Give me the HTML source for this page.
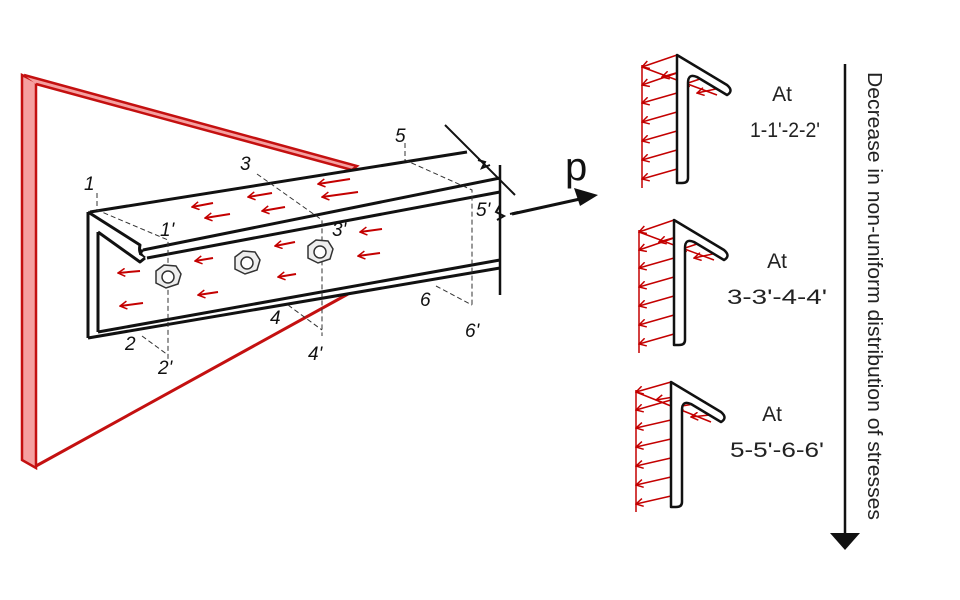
<!DOCTYPE html>
<html><head><meta charset="utf-8"><style>
html,body{margin:0;padding:0;background:#fff;}
svg{display:block;}
.hand{font-family:"Liberation Sans",sans-serif;}
</style></head><body>
<svg width="960" height="600" viewBox="0 0 960 600" xmlns="http://www.w3.org/2000/svg">
<defs>
<marker id="ra" markerWidth="9" markerHeight="9" refX="8" refY="4.5" orient="auto" markerUnits="userSpaceOnUse">
<path d="M1,0.5 L8,4.5 L1,8.5" fill="none" stroke="#c40000" stroke-width="1.5"/>
</marker>
</defs>
<rect width="960" height="600" fill="#fff"/>

<!-- red bracket / wall -->
<path d="M22,75 L36,82 L36,468 L22,460 Z" fill="#f5a0a0" stroke="#c41010" stroke-width="2.5"/>
<path d="M24,75 L357,166 L352,170 L36,84" fill="#f5a0a0" stroke="#c41010" stroke-width="2.5"/>
<line x1="36" y1="466" x2="348" y2="294" stroke="#c41010" stroke-width="3"/>

<!-- beam -->
<g fill="#fff" stroke="#111" stroke-width="3" stroke-linejoin="round">
<path d="M88,212 L467,152 L500,165 L500,295 L500,268 L88,338 Z" stroke="none"/>
<line x1="90" y1="212" x2="467" y2="152"/>
<line x1="143" y1="250" x2="500" y2="178"/>
<line x1="147" y1="258" x2="500" y2="192"/>
<path d="M143,250 Q138,254 143,258"/>
<path d="M88,212 L140,245 Q138,254 145,258"/>
<path d="M98,232 L140,262 L145,258"/>
<path d="M88,212 L88,338"/>
<path d="M98,232 L98,332"/>
<line x1="88" y1="338" x2="500" y2="268"/>
<line x1="98" y1="332" x2="500" y2="260"/>
<line x1="500" y1="165" x2="500" y2="295" stroke-width="2.5"/>
</g>
<!-- break line -->
<g stroke="#111" stroke-width="2" fill="none">
<line x1="445" y1="125" x2="515" y2="195"/>
<path d="M478,160 L485,162 L482,168 L490,165"/>
<path d="M500,205 L496,212 L504,216 L497,220"/>
<line x1="510" y1="214" x2="518" y2="212"/>
</g>

<!-- dashed section lines -->
<g stroke="#333" stroke-width="1" stroke-dasharray="5,3" fill="none">
<path d="M97,193 L97,210 L168,240 L168,360"/>
<path d="M142,336 L168,355"/>
<path d="M257,174 L322,220 L322,336"/>
<path d="M288,305 L322,330"/>
<path d="M405,143 L405,160 L472,190 L472,306"/>
<path d="M436,286 L472,305"/>
</g>

<!-- bolts -->
<g fill="#fff" stroke="#333" stroke-width="1.5">
<g transform="translate(168,277)"><path d="M-12,-6 L-4,-12 L8,-11 L13,-3 L10,7 L-2,11 L-12,6 Z" fill="#eee"/><circle r="6"/></g>
<g transform="translate(247,263)"><path d="M-12,-6 L-4,-12 L8,-11 L13,-3 L10,7 L-2,11 L-12,6 Z" fill="#eee"/><circle r="6"/></g>
<g transform="translate(320,252)"><path d="M-12,-6 L-4,-12 L8,-11 L13,-3 L10,7 L-2,11 L-12,6 Z" fill="#eee"/><circle r="6"/></g>
</g>

<!-- red arrows on beam -->
<g stroke="#c40000" stroke-width="2" marker-end="url(#ra)">
<line x1="140" y1="271" x2="118" y2="273"/>
<line x1="143" y1="303" x2="120" y2="306"/>
<line x1="213" y1="258" x2="195" y2="261"/>
<line x1="218" y1="292" x2="198" y2="295"/>
<line x1="295" y1="242" x2="275" y2="246"/>
<line x1="296" y1="274" x2="278" y2="277"/>
<line x1="382" y1="229" x2="360" y2="232"/>
<line x1="380" y1="253" x2="358" y2="256"/>
<line x1="213" y1="203" x2="192" y2="207"/>
<line x1="230" y1="214" x2="205" y2="218"/>
<line x1="272" y1="193" x2="248" y2="197"/>
<line x1="285" y1="207" x2="262" y2="211"/>
<line x1="350" y1="179" x2="318" y2="184"/>
<line x1="358" y1="192" x2="322" y2="197"/>
</g>

<!-- labels -->
<g class="hand" font-size="19" fill="#111" font-style="italic">
<text x="84" y="190">1</text>
<text x="160" y="236">1'</text>
<text x="125" y="350">2</text>
<text x="158" y="374">2'</text>
<text x="240" y="170">3</text>
<text x="332" y="236">3'</text>
<text x="270" y="324">4</text>
<text x="308" y="360">4'</text>
<text x="395" y="142">5</text>
<text x="476" y="216">5'</text>
<text x="420" y="306">6</text>
<text x="465" y="337">6'</text>
</g>

<!-- P arrow -->
<line x1="512" y1="214" x2="580" y2="199" stroke="#111" stroke-width="3"/>
<path d="M598,195 L574,188 L580,206 Z" fill="#111"/>
<text x="565" y="180" class="hand" font-size="40" fill="#111">p</text>

<!-- section diagrams -->
<g transform="translate(677,55)">
 <g stroke="#c40000" stroke-width="1.5" fill="none" marker-end="url(#ra)">
  <line x1="0" y1="0" x2="-35" y2="12"/>
  <line x1="0" y1="18" x2="-35" y2="30"/><line x1="0" y1="38" x2="-35" y2="48"/><line x1="0" y1="57" x2="-35" y2="67"/><line x1="0" y1="76" x2="-35" y2="86"/><line x1="0" y1="95" x2="-35" y2="105"/><line x1="0" y1="114" x2="-35" y2="124"/>
  <line x1="20" y1="12" x2="-15" y2="22"/><line x1="35" y1="20" x2="5" y2="30"/><line x1="48" y1="32" x2="20" y2="38"/>
 </g>
 <g stroke="#c40000" stroke-width="1.5" fill="none">
  <line x1="-35" y1="10" x2="-35" y2="133"/>
  <line x1="-35" y1="12" x2="40" y2="40"/>
 </g>
 <path d="M0,0 L50,30 Q57,36 50,40 L20,22 Q11,18 11,28 L11,123 Q11,128 5,128 L0,128 Z" fill="#fff" stroke="#111" stroke-width="2.5" stroke-linejoin="round"/>
</g>
<g transform="translate(674,220)">
 <g stroke="#c40000" stroke-width="1.5" fill="none" marker-end="url(#ra)">
  <line x1="0" y1="0" x2="-35" y2="12"/>
  <line x1="0" y1="18" x2="-35" y2="30"/><line x1="0" y1="38" x2="-35" y2="48"/><line x1="0" y1="57" x2="-35" y2="67"/><line x1="0" y1="76" x2="-35" y2="86"/><line x1="0" y1="95" x2="-35" y2="105"/><line x1="0" y1="114" x2="-35" y2="124"/>
  <line x1="20" y1="12" x2="-15" y2="22"/><line x1="35" y1="20" x2="5" y2="30"/><line x1="48" y1="32" x2="20" y2="38"/>
 </g>
 <g stroke="#c40000" stroke-width="1.5" fill="none">
  <line x1="-35" y1="10" x2="-35" y2="133"/>
  <line x1="-35" y1="12" x2="40" y2="40"/>
 </g>
 <path d="M0,0 L50,30 Q57,36 50,40 L20,22 Q11,18 11,28 L11,120 Q11,125 5,125 L0,125 Z" fill="#fff" stroke="#111" stroke-width="2.5" stroke-linejoin="round"/>
</g>
<g transform="translate(671,382)">
 <g stroke="#c40000" stroke-width="1.5" fill="none" marker-end="url(#ra)">
  <line x1="0" y1="0" x2="-35" y2="10"/>
  <line x1="0" y1="18" x2="-35" y2="28"/><line x1="0" y1="38" x2="-35" y2="46"/><line x1="0" y1="57" x2="-35" y2="65"/><line x1="0" y1="76" x2="-35" y2="84"/><line x1="0" y1="95" x2="-35" y2="103"/><line x1="0" y1="114" x2="-35" y2="122"/>
  <line x1="20" y1="12" x2="-15" y2="18"/><line x1="35" y1="20" x2="5" y2="25"/><line x1="48" y1="32" x2="20" y2="35"/>
 </g>
 <g stroke="#c40000" stroke-width="1.5" fill="none">
  <line x1="-35" y1="8" x2="-35" y2="130"/>
  <line x1="-35" y1="10" x2="40" y2="40"/>
 </g>
 <path d="M0,0 L50,30 Q57,36 50,40 L20,22 Q11,18 11,28 L11,120 Q11,125 5,125 L0,125 Z" fill="#fff" stroke="#111" stroke-width="2.5" stroke-linejoin="round"/>
</g>

<g class="hand" font-size="21" fill="#222" text-anchor="middle">
<text x="782" y="101">At</text>
<text x="785" y="137" textLength="70" lengthAdjust="spacingAndGlyphs">1-1'-2-2'</text>
<text x="777" y="268">At</text>
<text x="777" y="304" textLength="100" lengthAdjust="spacingAndGlyphs">3-3'-4-4'</text>
<text x="772" y="421">At</text>
<text x="777" y="457" textLength="94" lengthAdjust="spacingAndGlyphs">5-5'-6-6'</text>
</g>

<!-- decrease arrow -->
<line x1="845" y1="64" x2="845" y2="535" stroke="#111" stroke-width="2.5"/>
<path d="M830,533 L860,533 L845,550 Z" fill="#111"/>
<text transform="translate(868,72) rotate(90)" class="hand" font-size="20" fill="#222" textLength="448" lengthAdjust="spacingAndGlyphs">Decrease in non-uniform distribution  of stresses</text>
</svg>
</body></html>
